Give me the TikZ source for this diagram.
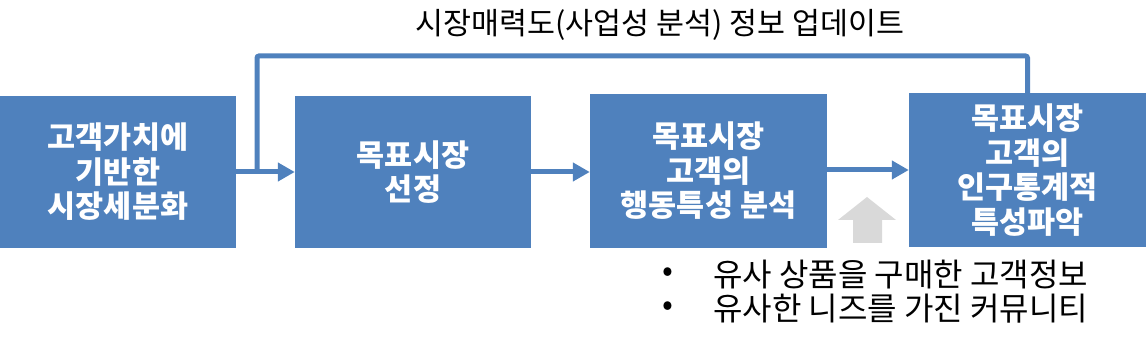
\documentclass[tikz,border=0pt]{standalone}
\usepackage{fontspec}
\setmainfont{Noto Sans CJK KR}
\usetikzlibrary{arrows.meta}
\definecolor{boxblue}{HTML}{4F81BD}
\definecolor{hintgray}{HTML}{D9D9D9}
\tikzset{
  stepbox/.style={fill=boxblue, draw=none, text=white, align=center,
    font=\fontsize{30.5}{34.5}\selectfont\bfseries, inner sep=0pt},
  flow/.style={draw=boxblue, line width=5pt, -{Triangle[length=17pt,width=18pt]}},
  feed/.style={draw=boxblue, line width=5pt, rounded corners=2pt},
  plain/.style={text=black, inner sep=0pt, font=\fontsize{30.4}{34}\selectfont},
  bul/.style={text=black, inner sep=0pt, anchor=west, font=\fontsize{32}{34}\selectfont}
}
\begin{document}
\begin{tikzpicture}[x=1pt,y=-1pt]
\useasboundingbox (0,0) rectangle (1146,344);
\node[stepbox, minimum width=236pt, minimum height=152pt] (b1) at (118,172) {고객가치에\\기반한\\시장세분화};
\node[stepbox, minimum width=236pt, minimum height=152pt] (b2) at (413,172) {목표시장\\선정};
\node[stepbox, minimum width=237pt, minimum height=154pt] (b3) at (708.5,171) {목표시장\\고객의\\행동특성 분석};
\node[stepbox, minimum width=237pt, minimum height=154pt] (b4) at (1027.5,170) {목표시장\\고객의\\인구통계적\\특성파악};
\draw[flow] (b1.east |- 0,172) -- (b2.west |- 0,172);
\draw[flow] (b2.east |- 0,172) -- (b3.west |- 0,172);
\draw[flow] (b3.east |- 0,170) -- (b4.west |- 0,170);
\coordinate (j) at (257,172);
\coordinate (top) at (0,56);
\draw[feed] (b4.north) -- (b4.north |- top) -- (j |- top) -- (j);
\node[plain] (lbl) at (660,25) {시장매력도(사업성 분석) 정보 업데이트};
\fill[hintgray] (853,243) -- (853,220) -- (838,220) -- (867,197) -- (896,220) -- (882,220) -- (882,243) -- cycle;
\node[bul] (d1) at (662,275) {•};
\node[bul] (t1) at (713,275) {유사 상품을 구매한 고객정보};
\node[bul] (d2) at (662,309) {•};
\node[bul] (t2) at (713,309) {유사한 니즈를 가진 커뮤니티};
\end{tikzpicture}
\end{document}
